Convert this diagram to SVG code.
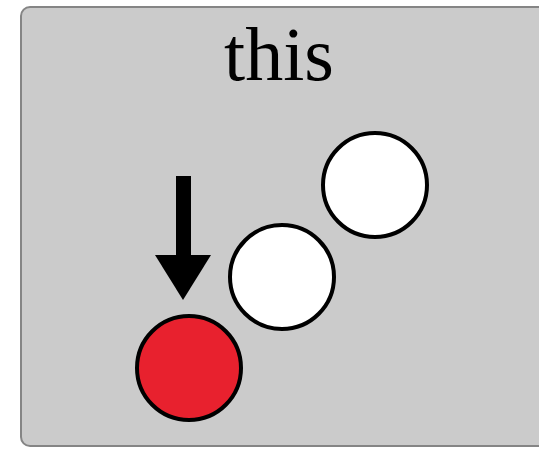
<svg xmlns="http://www.w3.org/2000/svg" width="539" height="451" viewBox="0 0 539 451">
<style>
.ball{stroke:#000;stroke-width:4}
.white{fill:#fff}
.red{fill:#e8212e}
.title{font-family:"Liberation Serif",serif;font-size:76px;fill:#000}
</style>
<rect x="21" y="7" width="530" height="439" rx="9" fill="#cbcbcb" stroke="#858585" stroke-width="2"/>
<text class="title" x="279" y="80" text-anchor="middle">this</text>
<g id="ball3"><circle class="ball white" cx="375" cy="185" r="52"/></g>
<g id="ball2"><circle class="ball white" cx="282" cy="277" r="52"/></g>
<g id="ball1"><circle class="ball red" cx="189" cy="368" r="52"/></g>
<g id="connectors">
<rect x="176" y="176" width="15" height="80" fill="#000"/>
<polygon points="155,255 211,255 183,300" fill="#000"/>
</g>
</svg>
